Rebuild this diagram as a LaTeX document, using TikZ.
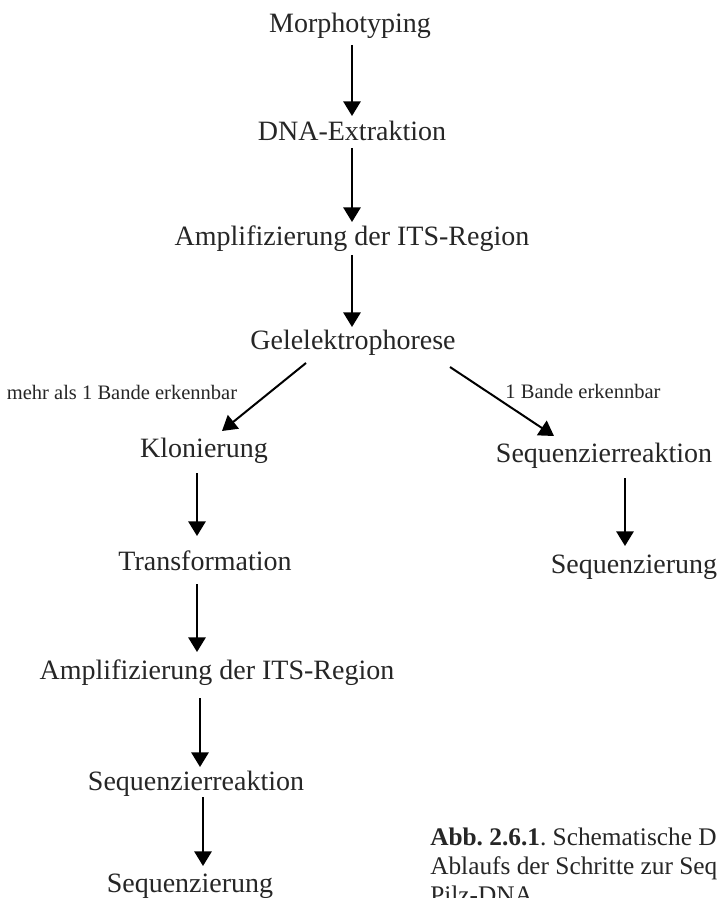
\documentclass[tikz,border=0pt]{standalone}
\usepackage{fontspec}
\setmainfont{Liberation Serif}
\usetikzlibrary{arrows.meta,calc}
\definecolor{txt}{HTML}{262626}
\frenchspacing
\tikzset{
  stepnode/.style={anchor=base,inner sep=0pt,text=txt,font=\fontsize{21}{24}\selectfont},
  lbl/.style={anchor=base,inner sep=0pt,text=txt,font=\fontsize{15.4}{18}\selectfont},
  arr/.style={line width=1.5pt,-{Triangle[width=13pt,length=11pt]}}
}
\begin{document}
\begin{tikzpicture}[x=0.75pt,y=-0.75pt]
\useasboundingbox (0,0) rectangle (719,898);
\clip (0,0) rectangle (719,898);
\fill[white] (0,0) rectangle (719,898);
\node[stepnode] (m) at (350,33) {Morphotyping};
\node[stepnode] (d) at (352,141) {DNA-Extraktion};
\node[stepnode] (a1) at (352,246) {Amplifizierung der ITS-Region};
\node[stepnode] (g) at (353,349) {Gelelektrophorese};
\node[lbl] (lblL) at (122,399) {mehr als 1 Bande erkennbar};
\node[lbl] (lblR) at (583,398) {1 Bande erkennbar};
\node[stepnode] (k) at (204,457) {Klonierung};
\node[stepnode] (sr1) at (604,462) {Sequenzierreaktion};
\node[stepnode] (t) at (205,570) {Transformation};
\node[stepnode] (s1) at (634,573) {Sequenzierung};
\node[stepnode] (a2) at (217,679) {Amplifizierung der ITS-Region};
\node[stepnode] (sr2) at (196,790) {Sequenzierreaktion};
\node[stepnode] (s2) at (190,892) {Sequenzierung};
\node[anchor=base west,inner sep=0pt,text=txt,align=left,
      font=\fontsize{19}{21.75}\selectfont] (cap) at (430,903)
  {\textbf{Abb. 2.6.1}. Schematische D\\Ablaufs der Schritte zur Seq\\Pilz-DNA};
\draw[arr] ($(m.base)+(2,12)$) -- ($(d.base)+(0,-25)$);
\draw[arr] ($(d.base)+(0,7)$) -- ($(a1.base)+(0,-24)$);
\draw[arr] ($(a1.base)+(0,9)$) -- ($(g.base)+(-1,-22)$);
\draw[arr] ($(g.base)+(-47,14)$) -- ($(k.base)+(18,-26)$);
\draw[arr] ($(g.base)+(97,18)$) -- ($(sr1.base)+(-50,-26)$);
\draw[arr] ($(k.base)+(-7,16)$) -- ($(t.base)+(-8,-34)$);
\draw[arr] ($(sr1.base)+(21,16)$) -- ($(s1.base)+(-9,-27)$);
\draw[arr] ($(t.base)+(-8,14)$) -- ($(a2.base)+(-20,-27)$);
\draw[arr] ($(a2.base)+(-17,19)$) -- ($(sr2.base)+(4,-23)$);
\draw[arr] ($(sr2.base)+(7,7)$) -- ($(s2.base)+(13,-26)$);
\end{tikzpicture}
\end{document}
